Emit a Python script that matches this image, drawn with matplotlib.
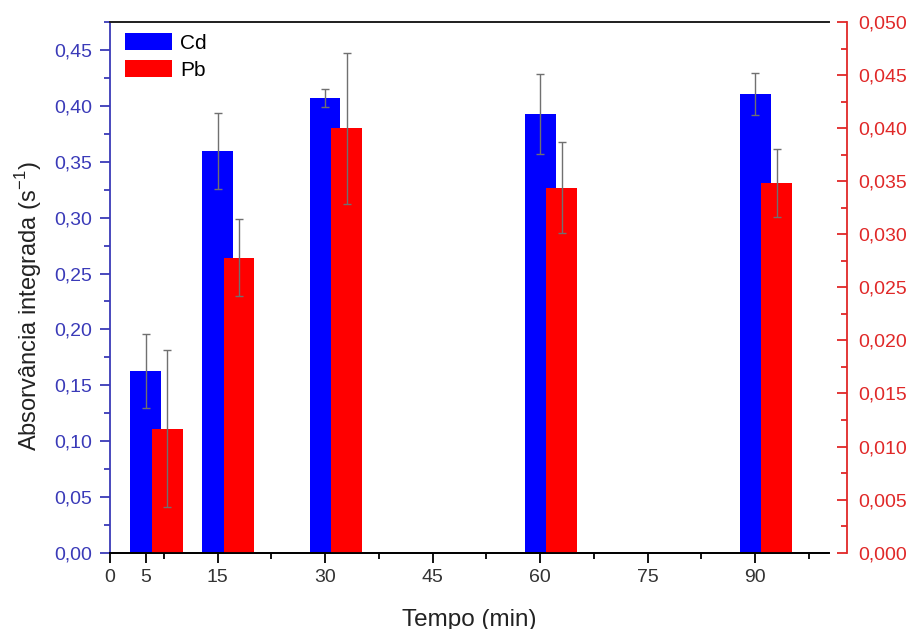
import matplotlib
matplotlib.use("Agg")
import matplotlib.pyplot as plt
from matplotlib.ticker import FuncFormatter, MultipleLocator, FixedLocator
from matplotlib.patches import Patch

plt.rcParams['font.family'] = ['Liberation Sans', 'DejaVu Sans']

# tempo (min)
tempo = [5, 15, 30, 60, 90]
# Cd, absorvancia integrada (eixo esquerdo)
cd = [0.163, 0.360, 0.407, 0.393, 0.411]
cd_err = [0.033, 0.034, 0.008, 0.036, 0.019]
# Pb (eixo direito)
pb = [0.0117, 0.0278, 0.0400, 0.0344, 0.0348]
pb_err = [0.0074, 0.0036, 0.0071, 0.0043, 0.0032]

xticks = [0, 5, 15, 30, 45, 60, 75, 90]

blue = '#0000ff'
red = '#ff0000'
axblue = '#3a3ab8'
axred = '#e02828'
errc = '#707070'

fig = plt.figure(figsize=(9.12, 6.29), dpi=100)
ax = fig.add_axes([0.1206, 0.1213, 0.7884, 0.8437])
ax2 = ax.twinx()

w = 4.3
ax.bar(tempo, cd, width=w, color=blue, zorder=2)
ax.errorbar(tempo, cd, yerr=cd_err, fmt='none', ecolor=errc, elinewidth=1,
            capsize=3, capthick=1, zorder=3)
pbx = [t + 3 for t in tempo]
ax2.bar(pbx, pb, width=w, color=red, zorder=2)
ax2.errorbar(pbx, pb, yerr=pb_err, fmt='none', ecolor=errc, elinewidth=1,
             capsize=3, capthick=1, zorder=3)

ax.set_xlim(0, 100.3)
ax.set_ylim(0, 0.4753)
ax2.set_ylim(0, 0.050)

comma = lambda d: FuncFormatter(lambda v, p: f"{v:.{d}f}".replace('.', ','))

ax.xaxis.set_major_locator(FixedLocator(xticks))
ax.xaxis.set_minor_locator(FixedLocator([7.5, 22.5, 37.5, 52.5, 67.5, 82.5, 97.5]))
ax.yaxis.set_major_locator(MultipleLocator(0.05))
ax.yaxis.set_minor_locator(MultipleLocator(0.025))
ax.yaxis.set_major_formatter(comma(2))
ax2.yaxis.set_major_locator(MultipleLocator(0.005))
ax2.yaxis.set_minor_locator(MultipleLocator(0.0025))
ax2.yaxis.set_major_formatter(comma(3))

ax.tick_params(axis='x', which='major', length=7, width=1.3, labelsize=14, pad=5,
               labelcolor='#333333')
ax.tick_params(axis='x', which='minor', length=4, width=1.3)
ax.tick_params(axis='y', which='major', length=7, width=1.3, color=axblue,
               labelcolor=axblue, labelsize=14, pad=6)
ax.tick_params(axis='y', which='minor', length=4, width=1.3, color=axblue)
ax2.tick_params(axis='y', which='major', direction='in', length=7, width=1.3,
                color=axred, labelcolor=axred, labelsize=14, pad=8)
ax2.tick_params(axis='y', which='minor', direction='in', length=4, width=1.3,
                color=axred)

for s in ['left', 'right', 'top', 'bottom']:
    ax.spines[s].set_linewidth(1.3)
    ax2.spines[s].set_linewidth(1.3)
ax.spines['left'].set_color(axblue)
ax2.spines['left'].set_visible(False)
ax.spines['right'].set_visible(False)
ax2.spines['right'].set_color(axred)
ax2.spines['right'].set_position(('outward', 13))
ax.spines['top'].set_color('#222222')
ax2.spines['top'].set_color('#222222')

ax.set_ylabel('Absorvância integrada (s$^{\\mathregular{-1}}$)', fontsize=17,
              color='#222222')
ax.yaxis.set_label_coords(-0.092, 0.465)
ax.set_xlabel('Tempo (min)', fontsize=17.5, labelpad=16, color='#222222')

handles = [Patch(facecolor=blue, label='Cd'), Patch(facecolor=red, label='Pb')]
ax2.legend(handles=handles, loc='upper left', bbox_to_anchor=(0.0, 1.006),
           frameon=False, fontsize=15, handlelength=2.3, handleheight=0.87,
           handletextpad=0.35, labelspacing=0.35, borderaxespad=0.4,
           borderpad=0.3)

fig.savefig('out.png', dpi=100)
